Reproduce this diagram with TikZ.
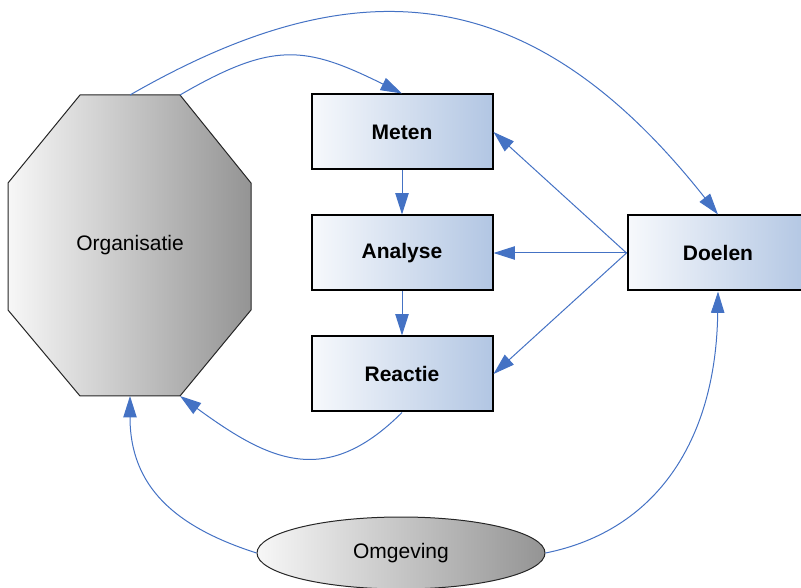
\documentclass[tikz,border=0pt]{standalone}
\usepackage{fontspec}
\setmainfont{Liberation Sans}
\usetikzlibrary{arrows.meta,shapes.geometric}

\definecolor{pijlblauw}{RGB}{68,114,196}
\definecolor{vakblauw}{RGB}{178,198,227}
\definecolor{vakwit}{RGB}{247,249,252}
\definecolor{vormgrijs}{RGB}{148,148,148}
\definecolor{vormwit}{RGB}{247,247,247}

\tikzset{
	stap/.style = {draw = black, line width = 1.5pt, left color = vakwit, right color = vakblauw,
		minimum width = 135.75pt, minimum height = 56.25pt,
		font = \bfseries\fontsize{15.75}{19}\selectfont},
	vorm/.style = {draw = black!85, line width = 0.75pt, left color = vormwit, right color = vormgrijs},
	tekst/.style = {font = \fontsize{15.75}{19}\selectfont},
	pijl/.style = {draw = pijlblauw, line width = 0.75pt, -{Triangle[length = 16pt, width = 10pt]}}
}

\begin{document}
\begin{tikzpicture}[x = 0.75pt, y = -0.75pt]
	\useasboundingbox (0,0) rectangle (801,588);
	\clip (0,0) rectangle (801,588);

	% organisatie (achthoek)
	\path[vorm] (80,95) -- (180,95) -- (251,183) -- (251,310)
		-- (180,396) -- (80,396) -- (8,310) -- (8,183) -- cycle;
	\coordinate (orgN) at (130,95);
	\coordinate (orgNO) at (180,95);
	\coordinate (orgZO) at (180,396);
	\coordinate (orgZ) at (130,396);

	\path
	(130,245) node[tekst](org){Organisatie}
	(402,132) node[stap](meten){Meten}
	(402,253) node[stap](analyse){Analyse}
	(402,374) node[stap](reactie){Reactie}
	(718,253) node[stap](doelen){Doelen}
	(401,553) node[vorm, tekst, ellipse, minimum width = 216pt, minimum height = 54pt](omgeving){Omgeving};

	\draw[pijl] (orgN) .. controls +(226,-130) and +(-187,-237) .. (doelen.north);
	\draw[pijl] (orgNO) .. controls +(93,-54) and +(-97,-48) .. (meten.north);
	\draw[pijl] (meten) -- (analyse);
	\draw[pijl] (analyse) -- (reactie);
	\draw[pijl] (doelen.west) -- (meten.east);
	\draw[pijl] (doelen.west) -- (analyse.east);
	\draw[pijl] (doelen.west) -- (reactie.east);
	\draw[pijl] (reactie.south) .. controls +(-77,77) and +(88,64) .. (orgZO);
	\draw[pijl] (omgeving.west) .. controls +(-81,-26) and +(0,91) .. (orgZ);
	\draw[pijl] (omgeving.east) .. controls +(110,-22) and +(-2,150) .. (doelen.south);
\end{tikzpicture}
\end{document}
